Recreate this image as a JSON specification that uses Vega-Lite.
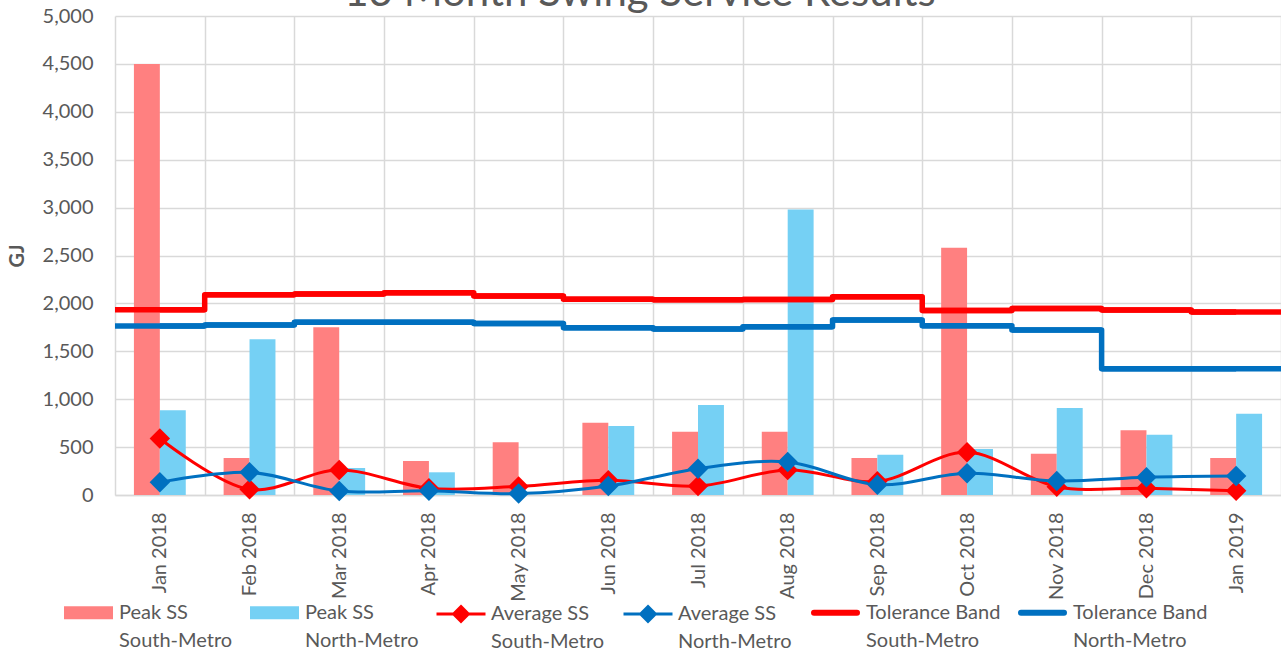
{
  "$schema": "https://vega.github.io/schema/vega-lite/v6.json",
  "autosize": {"type": "none"},
  "padding": {"left": 115, "top": 16, "right": 0, "bottom": 157},
  "width": 1166,
  "height": 479,
  "background": "white",
  "title": {
    "text": "13 Month Swing Service Results",
    "fontSize": 42,
    "fontWeight": "normal",
    "color": "#595959",
    "font": "Lato",
    "anchor": "middle",
    "frame": "group",
    "dx": -58,
    "dy": 13
  },
  "config": {
    "font": "Lato",
    "view": {"stroke": null},
    "axis": {
      "labelFont": "Lato",
      "labelFontSize": 20,
      "labelColor": "#595959",
      "ticks": false,
      "gridColor": "#D9D9D9",
      "gridWidth": 1.5,
      "domainColor": "#D9D9D9",
      "domainWidth": 1.5
    },
    "axisX": {"grid": true, "tickBand": "extent", "labelAngle": -90, "labelPadding": 17, "domain": true},
    "axisY": {"domain": false, "labelPadding": 22, "titleFontSize": 20, "titleFontWeight": "bold", "titleColor": "#595959", "titleX": -98, "titleY": 239.5, "titleAngle": -90, "titleAlign": "center", "titleBaseline": "middle"}
  },
  "datasets": {
    "peak": [
      {"month": "Jan 2018", "series": "Peak SS South-Metro", "value": 4500},
      {"month": "Jan 2018", "series": "Peak SS North-Metro", "value": 885},
      {"month": "Feb 2018", "series": "Peak SS South-Metro", "value": 385},
      {"month": "Feb 2018", "series": "Peak SS North-Metro", "value": 1625},
      {"month": "Mar 2018", "series": "Peak SS South-Metro", "value": 1750},
      {"month": "Mar 2018", "series": "Peak SS North-Metro", "value": 282},
      {"month": "Apr 2018", "series": "Peak SS South-Metro", "value": 355},
      {"month": "Apr 2018", "series": "Peak SS North-Metro", "value": 237},
      {"month": "May 2018", "series": "Peak SS South-Metro", "value": 550},
      {"month": "May 2018", "series": "Peak SS North-Metro", "value": 0},
      {"month": "Jun 2018", "series": "Peak SS South-Metro", "value": 755},
      {"month": "Jun 2018", "series": "Peak SS North-Metro", "value": 720},
      {"month": "Jul 2018", "series": "Peak SS South-Metro", "value": 660},
      {"month": "Jul 2018", "series": "Peak SS North-Metro", "value": 940},
      {"month": "Aug 2018", "series": "Peak SS South-Metro", "value": 660},
      {"month": "Aug 2018", "series": "Peak SS North-Metro", "value": 2980},
      {"month": "Sep 2018", "series": "Peak SS South-Metro", "value": 386},
      {"month": "Sep 2018", "series": "Peak SS North-Metro", "value": 421},
      {"month": "Oct 2018", "series": "Peak SS South-Metro", "value": 2580},
      {"month": "Oct 2018", "series": "Peak SS North-Metro", "value": 480},
      {"month": "Nov 2018", "series": "Peak SS South-Metro", "value": 431},
      {"month": "Nov 2018", "series": "Peak SS North-Metro", "value": 908},
      {"month": "Dec 2018", "series": "Peak SS South-Metro", "value": 675},
      {"month": "Dec 2018", "series": "Peak SS North-Metro", "value": 630},
      {"month": "Jan 2019", "series": "Peak SS South-Metro", "value": 386},
      {"month": "Jan 2019", "series": "Peak SS North-Metro", "value": 849}
    ],
    "avg": [
      {"month": "Jan 2018", "series": "Average SS South-Metro", "value": 590},
      {"month": "Feb 2018", "series": "Average SS South-Metro", "value": 59},
      {"month": "Mar 2018", "series": "Average SS South-Metro", "value": 261},
      {"month": "Apr 2018", "series": "Average SS South-Metro", "value": 70},
      {"month": "May 2018", "series": "Average SS South-Metro", "value": 90},
      {"month": "Jun 2018", "series": "Average SS South-Metro", "value": 155},
      {"month": "Jul 2018", "series": "Average SS South-Metro", "value": 94},
      {"month": "Aug 2018", "series": "Average SS South-Metro", "value": 260},
      {"month": "Sep 2018", "series": "Average SS South-Metro", "value": 143},
      {"month": "Oct 2018", "series": "Average SS South-Metro", "value": 445},
      {"month": "Nov 2018", "series": "Average SS South-Metro", "value": 87},
      {"month": "Dec 2018", "series": "Average SS South-Metro", "value": 70},
      {"month": "Jan 2019", "series": "Average SS South-Metro", "value": 45},
      {"month": "Jan 2018", "series": "Average SS North-Metro", "value": 132},
      {"month": "Feb 2018", "series": "Average SS North-Metro", "value": 237},
      {"month": "Mar 2018", "series": "Average SS North-Metro", "value": 42},
      {"month": "Apr 2018", "series": "Average SS North-Metro", "value": 45},
      {"month": "May 2018", "series": "Average SS North-Metro", "value": 15},
      {"month": "Jun 2018", "series": "Average SS North-Metro", "value": 94},
      {"month": "Jul 2018", "series": "Average SS North-Metro", "value": 275},
      {"month": "Aug 2018", "series": "Average SS North-Metro", "value": 344},
      {"month": "Sep 2018", "series": "Average SS North-Metro", "value": 108},
      {"month": "Oct 2018", "series": "Average SS North-Metro", "value": 226},
      {"month": "Nov 2018", "series": "Average SS North-Metro", "value": 146},
      {"month": "Dec 2018", "series": "Average SS North-Metro", "value": 185},
      {"month": "Jan 2019", "series": "Average SS North-Metro", "value": 198}
    ],
    "tol": [
      {"month": "Jan 2018", "series": "Tolerance Band South-Metro", "value": 1935},
      {"month": "Feb 2018", "series": "Tolerance Band South-Metro", "value": 2090},
      {"month": "Mar 2018", "series": "Tolerance Band South-Metro", "value": 2098},
      {"month": "Apr 2018", "series": "Tolerance Band South-Metro", "value": 2112},
      {"month": "May 2018", "series": "Tolerance Band South-Metro", "value": 2077},
      {"month": "Jun 2018", "series": "Tolerance Band South-Metro", "value": 2043},
      {"month": "Jul 2018", "series": "Tolerance Band South-Metro", "value": 2038},
      {"month": "Aug 2018", "series": "Tolerance Band South-Metro", "value": 2040},
      {"month": "Sep 2018", "series": "Tolerance Band South-Metro", "value": 2070},
      {"month": "Oct 2018", "series": "Tolerance Band South-Metro", "value": 1925},
      {"month": "Nov 2018", "series": "Tolerance Band South-Metro", "value": 1948},
      {"month": "Dec 2018", "series": "Tolerance Band South-Metro", "value": 1932},
      {"month": "Jan 2019", "series": "Tolerance Band South-Metro", "value": 1910},
      {"month": "Jan 2018", "series": "Tolerance Band North-Metro", "value": 1764},
      {"month": "Feb 2018", "series": "Tolerance Band North-Metro", "value": 1775},
      {"month": "Mar 2018", "series": "Tolerance Band North-Metro", "value": 1803},
      {"month": "Apr 2018", "series": "Tolerance Band North-Metro", "value": 1803},
      {"month": "May 2018", "series": "Tolerance Band North-Metro", "value": 1790},
      {"month": "Jun 2018", "series": "Tolerance Band North-Metro", "value": 1745},
      {"month": "Jul 2018", "series": "Tolerance Band North-Metro", "value": 1732},
      {"month": "Aug 2018", "series": "Tolerance Band North-Metro", "value": 1757},
      {"month": "Sep 2018", "series": "Tolerance Band North-Metro", "value": 1827},
      {"month": "Oct 2018", "series": "Tolerance Band North-Metro", "value": 1768},
      {"month": "Nov 2018", "series": "Tolerance Band North-Metro", "value": 1723},
      {"month": "Dec 2018", "series": "Tolerance Band North-Metro", "value": 1317},
      {"month": "Jan 2019", "series": "Tolerance Band North-Metro", "value": 1317}
    ]
  },
  "layer": [
    {
      "data": {"name": "peak"},
      "mark": {"type": "bar"},
      "encoding": {
        "x": {"field": "month", "type": "nominal", "title": null, "scale": {"domain": ["Jan 2018","Feb 2018","Mar 2018","Apr 2018","May 2018","Jun 2018","Jul 2018","Aug 2018","Sep 2018","Oct 2018","Nov 2018","Dec 2018","Jan 2019"], "paddingInner": 0, "paddingOuter": 0}},
        "xOffset": {"field": "series", "type": "nominal", "scale": {"domain": ["Peak SS South-Metro", "Peak SS North-Metro"], "paddingInner": 0, "paddingOuter": 0.73}},
        "y": {"field": "value", "type": "quantitative", "title": "GJ", "scale": {"domain": [0, 5000], "nice": false}, "axis": {"values": [0,500,1000,1500,2000,2500,3000,3500,4000,4500,5000], "format": ",.0f"}},
        "fill": {
          "field": "series", "type": "nominal",
          "scale": {"domain": ["Peak SS South-Metro", "Peak SS North-Metro"], "range": ["#FF8080", "#75D0F4"]},
          "legend": {
            "orient": "none", "legendX": -51, "legendY": 572, "direction": "horizontal", "title": null,
            "symbolType": "M-1,-0.27H1V0.27H-1Z", "symbolSize": 2401, "symbolStrokeWidth": 0,
            "labelExpr": "[substring(datum.label, 0, lastindexof(datum.label, ' ')), substring(datum.label, lastindexof(datum.label, ' ') + 1)]",
            "labelFontSize": 20, "labelColor": "#595959", "labelFont": "Lato", "labelOffset": 6, "labelLimit": 400,
            "gridAlign": "all", "columnPadding": 17,
            "encode": {"labels": {"update": {"lineHeight": {"value": 28}}}}
          }
        }
      }
    },
    {
      "data": {"name": "tol"},
      "mark": {"type": "rule", "strokeWidth": 5.5, "strokeCap": "butt"},
      "encoding": {
        "x": {"field": "month", "type": "nominal", "title": null, "bandPosition": 0},
        "x2": {"field": "month", "bandPosition": 1},
        "y": {"field": "value", "type": "quantitative", "title": "GJ"},
        "stroke": {"field": "series", "type": "nominal", "scale": {"domain": ["Tolerance Band South-Metro", "Tolerance Band North-Metro"], "range": ["#FF0000", "#0070C0"]}, "legend": null}
      }
    },
    {
      "data": {"name": "tol"},
      "mark": {"type": "line", "interpolate": "step", "strokeWidth": 5.5, "strokeJoin": "round", "strokeCap": "butt"},
      "encoding": {
        "x": {"field": "month", "type": "nominal", "title": null},
        "y": {"field": "value", "type": "quantitative", "title": "GJ"},
        "stroke": {
          "field": "series", "type": "nominal",
          "scale": {"domain": ["Tolerance Band South-Metro", "Tolerance Band North-Metro"], "range": ["#FF0000", "#0070C0"]},
          "legend": {
            "orient": "none", "legendX": 696, "legendY": 572, "direction": "horizontal", "title": null,
            "symbolType": "stroke", "symbolSize": 1849, "symbolStrokeWidth": 6,
            "labelExpr": "[substring(datum.label, 0, lastindexof(datum.label, ' ')), substring(datum.label, lastindexof(datum.label, ' ') + 1)]",
            "labelFontSize": 20, "labelColor": "#595959", "labelFont": "Lato", "labelOffset": 6, "labelLimit": 400,
            "gridAlign": "all", "columnPadding": 8,
            "encode": {"labels": {"update": {"lineHeight": {"value": 28}}}, "symbols": {"update": {"strokeCap": {"value": "round"}}}}
          }
        }
      }
    },
    {
      "data": {"name": "avg"},
      "mark": {"type": "line", "interpolate": "catmull-rom", "strokeWidth": 3},
      "encoding": {
        "x": {"field": "month", "type": "nominal", "title": null},
        "y": {"field": "value", "type": "quantitative", "title": "GJ"},
        "stroke": {
          "field": "series", "type": "nominal",
          "scale": {"domain": ["Average SS South-Metro", "Average SS North-Metro"], "range": ["#FF0000", "#0070C0"]},
          "legend": {
            "orient": "none", "legendX": 320, "legendY": 572, "direction": "horizontal", "title": null,
            "symbolType": "M-1,0H1M0,-0.3L0.3,0L0,0.3L-0.3,0Z", "symbolSize": 2401, "symbolStrokeWidth": 3,
            "labelExpr": "[substring(datum.label, 0, lastindexof(datum.label, ' ')), substring(datum.label, lastindexof(datum.label, ' ') + 1)]",
            "labelFontSize": 20, "labelColor": "#595959", "labelFont": "Lato", "labelOffset": 4, "labelLimit": 400,
            "gridAlign": "all", "columnPadding": 12,
            "encode": {"labels": {"update": {"lineHeight": {"value": 28}}}, "symbols": {"update": {"fill": {"signal": "indexof(datum.value, 'South') >= 0 ? '#FF0000' : '#0070C0'"}}}}
          }
        }
      }
    },
    {
      "data": {"name": "avg"},
      "mark": {"type": "point", "shape": "diamond", "filled": true, "size": 420, "opacity": 1},
      "encoding": {
        "x": {"field": "month", "type": "nominal", "title": null},
        "y": {"field": "value", "type": "quantitative", "title": "GJ"},
        "color": {"field": "series", "type": "nominal", "scale": {"domain": ["Average SS South-Metro", "Average SS North-Metro"], "range": ["#FF0000", "#0070C0"]}, "legend": null}
      }
    }
  ],
  "resolve": {"scale": {"stroke": "independent", "fill": "independent", "color": "independent"}}
}
